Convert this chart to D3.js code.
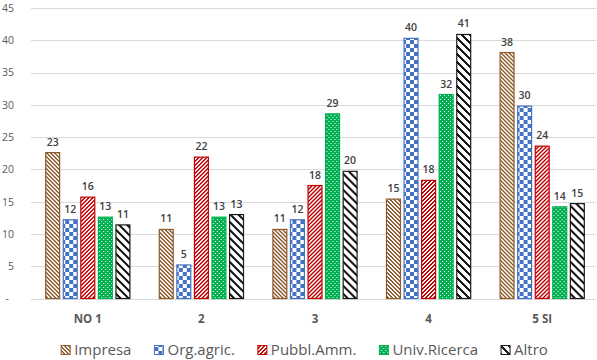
<!DOCTYPE html>
<html>
<head>
<meta charset="utf-8">
<script src="https://cdn.jsdelivr.net/npm/d3@7"></script>
<style>
  html, body { margin: 0; padding: 0; background: #fff; }
  svg { display: block; font-family: "Open Sans", sans-serif; }
</style>
</head>
<body>
<svg id="chart" width="597" height="360"></svg>
<script>
// ---- Data ----
const categories = ["NO 1", "2", "3", "4", "5 SI"];
const seriesNames = ["Impresa", "Org.agric.", "Pubbl.Amm.", "Univ.Ricerca", "Altro"];
const impresa     = [22.6, 10.7, 10.7, 15.4, 38.1];
const orgAgric    = [12.2, 5.2, 12.2, 40.3, 29.8];
const pubblAmm    = [15.7, 21.9, 17.5, 18.3, 23.6];
const univRicerca = [12.6, 12.6, 28.6, 31.6, 14.2];
const altro       = [11.4, 13.0, 19.7, 40.9, 14.7];
const yTicks = [0, 5, 10, 15, 20, 25, 30, 35, 40, 45];

const seriesValues = [impresa, orgAgric, pubblAmm, univRicerca, altro];
const colors = ["#8E5B2C", "#4472C4", "#C00000", "#00B050", "#1A1A1A"];
const patternKinds = ["dkDn", "check", "dkUp", "dots", "wdDn"];

const svg = d3.select("#chart");
const plot = { left: 31, right: 599, top: 8, bottom: 298.5 };

// ---- Patterns (8x8 bitmaps like Office fills) ----
const defs = svg.append("defs");
function pixelOn(kind, x, y) {
  switch (kind) {
    case "dkDn": return ((x - y) % 4 + 4) % 4 < 2;
    case "dkUp": return ((x + y) % 4) < 2;
    case "wdDn": return ((x - y) % 8 + 8) % 8 < 3;
    case "check": return (Math.floor(x / 4) + Math.floor(y / 4)) % 2 === 0;
    case "dots": return !((x % 4 === 0 && y % 4 === 1) || (x % 4 === 2 && y % 4 === 3));
  }
  return false;
}
patternKinds.forEach((kind, i) => {
  const p = defs.append("pattern")
    .attr("id", "pat" + i)
    .attr("patternUnits", "userSpaceOnUse")
    .attr("width", 8).attr("height", 8);
  p.append("rect").attr("width", 8).attr("height", 8).attr("fill", "#fff");
  for (let y = 0; y < 8; y++) for (let x = 0; x < 8; x++) {
    if (pixelOn(kind, x, y)) {
      p.append("rect").attr("x", x).attr("y", y).attr("width", 1).attr("height", 1)
        .attr("fill", colors[i]).attr("shape-rendering", "crispEdges");
    }
  }
});

// ---- Scales ----
const x0 = d3.scaleBand().domain(categories).range([plot.left, plot.right])
  .paddingInner(0.25).paddingOuter(0.125);
const x1 = d3.scaleBand().domain(seriesNames).range([0, x0.bandwidth()]).paddingInner(0.15);
const y = d3.scaleLinear().domain([0, 45]).range([plot.bottom, plot.top]);

// ---- Gridlines ----
svg.append("g").selectAll("line").data(yTicks).join("line")
  .attr("x1", plot.left).attr("x2", 596)
  .attr("y1", d => Math.round(y(d)) + 0.5).attr("y2", d => Math.round(y(d)) + 0.5)
  .attr("stroke", "#D9D9D9").attr("stroke-width", 1);

// ---- Y axis labels ----
const yAxis = d3.axisLeft(y).tickValues(yTicks).tickSize(0)
  .tickFormat(d => d === 0 ? "-" : d3.format("d")(d));
const gy = svg.append("g").attr("transform", "translate(14,0)").call(yAxis);
gy.select(".domain").remove();
gy.selectAll("text").attr("fill", "#595959").attr("font-size", "10.5px")
  .attr("font-family", "'Open Sans', sans-serif")
  .attr("x", d => d === 0 ? -5 : 0);

// ---- Bars ----
const groups = svg.append("g").selectAll("g").data(categories).join("g")
  .attr("transform", c => `translate(${x0(c)},0)`);

groups.selectAll("rect").data((c, ci) => seriesNames.map((s, si) => ({ s, si, v: seriesValues[si][ci] })))
  .join("rect")
  .attr("x", d => x1(d.s) + 0.5)
  .attr("y", d => y(d.v))
  .attr("width", x1.bandwidth() - 1)
  .attr("height", d => y(0) - y(d.v))
  .attr("fill", d => `url(#pat${d.si})`)
  .attr("stroke", d => colors[d.si])
  .attr("stroke-width", 1.2);

groups.selectAll("text").data((c, ci) => seriesNames.map((s, si) => ({ s, si, v: seriesValues[si][ci] })))
  .join("text")
  .attr("x", d => x1(d.s) + x1.bandwidth() / 2)
  .attr("y", d => y(d.v) - 7)
  .attr("text-anchor", "middle")
  .attr("font-size", "10.5px")
  .attr("font-weight", 600)
  .attr("fill", "#404040")
  .text(d => d3.format(".0f")(d.v));

// ---- X axis labels ----
const xAxis = d3.axisBottom(x0).tickSize(0).tickPadding(0);
const gx = svg.append("g").attr("transform", `translate(0,${plot.bottom})`).call(xAxis);
gx.select(".domain").remove();
gx.selectAll("text").attr("fill", "#595959").attr("font-size", "11.5px")
  .attr("font-weight", 700).attr("font-family", "'Open Sans', sans-serif")
  .attr("dy", 0).attr("y", 24);

// ---- Legend ----
const legend = svg.append("g");
const items = legend.selectAll("g").data(seriesNames).join("g");
items.append("rect").attr("width", 9).attr("height", 9).attr("y", -9.5)
  .attr("fill", (d, i) => `url(#pat${i})`).attr("stroke", (d, i) => colors[i]).attr("stroke-width", 1);
items.append("text").attr("x", 13).attr("y", 0)
  .attr("font-size", "15px").attr("fill", "#595959").text(d => d);
const widths = [];
items.each(function () {
  widths.push(this.querySelector("text").getComputedTextLength() + 13);
});
const gap = 23;
const total = d3.sum(widths) + gap * (widths.length - 1);
let xpos = 304.5 - total / 2;
items.attr("transform", (d, i) => {
  const t = `translate(${xpos},355)`;
  xpos += widths[i] + gap;
  return t;
});
</script>
</body>
</html>
